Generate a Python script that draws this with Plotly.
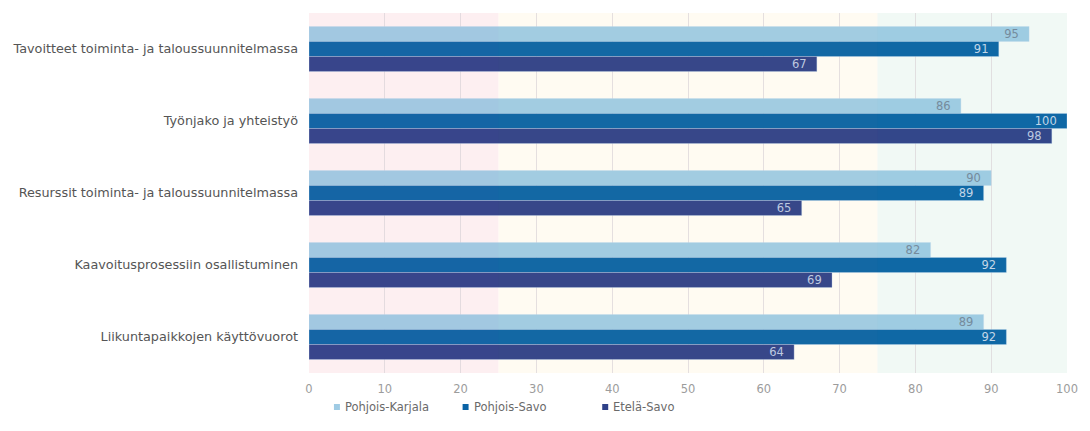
import plotly.graph_objects as go

categories = [
    "Tavoitteet toiminta- ja taloussuunnitelmassa",
    "Työnjako ja yhteistyö",
    "Resurssit toiminta- ja taloussuunnitelmassa",
    "Kaavoitusprosessiin osallistuminen",
    "Liikuntapaikkojen käyttövuorot",
]
series_names = ["Pohjois-Karjala", "Pohjois-Savo", "Etelä-Savo"]
pohjois_karjala = [95, 86, 90, 82, 89]
pohjois_savo = [91, 100, 89, 92, 92]
etela_savo = [67, 98, 65, 69, 64]
x_ticks = [0, 10, 20, 30, 40, 50, 60, 70, 80, 90, 100]

values = [pohjois_karjala, pohjois_savo, etela_savo]
colors = ["#9fcbe4", "#0a63a5", "#2f4189"]
label_colors = ["#74889c", "#c4d6ea", "#bcc8e2"]

FONT = "DejaVu Sans, Verdana, sans-serif"

fig = go.Figure()
for name, vals, col, lcol in zip(series_names, values, colors, label_colors):
    fig.add_trace(go.Bar(
        y=categories, x=vals, orientation="h", name=name,
        marker=dict(color=col, line=dict(color="rgba(190,215,240,0.55)", width=0.6)),
        text=vals, texttemplate="%{x}\u00a0\u00a0", textposition="inside",
        insidetextanchor="end", textangle=0, constraintext="none",
        textfont=dict(family=FONT, size=11.5, color=lcol),
        showlegend=False, hoverinfo="x+name",
    ))

# zone backgrounds: 0-25 / 25-75 / 75-100
bands = [(0, 25, "#fef4f5", "rgba(245,150,170,0.05)"),
         (25, 75, "#fffcf6", "rgba(255,220,160,0.04)"),
         (75, 100, "#f5faf8", "rgba(150,220,190,0.04)")]
for x0, x1, bg, tint in bands:
    fig.add_shape(type="rect", xref="x", yref="paper", x0=x0, x1=x1, y0=0, y1=1,
                  fillcolor=bg, line=dict(width=0), layer="below")
    fig.add_shape(type="rect", xref="x", yref="paper", x0=x0, x1=x1, y0=0, y1=1,
                  fillcolor=tint, line=dict(width=0), layer="above")

# legend below the plot: small colour squares followed by series names
legend_x = [336, 465, 605]
legend_y = 407
for name, col, lx in zip(series_names, colors, legend_x):
    fig.add_shape(type="rect", xref="paper", yref="paper",
                  x0=(lx - 3 - 308) / 760, x1=(lx + 3 - 308) / 760,
                  y0=(373 - legend_y - 3) / 360, y1=(373 - legend_y + 3) / 360,
                  fillcolor=col, line=dict(width=0), layer="above")
    fig.add_annotation(xref="paper", yref="paper",
                       x=(lx + 6 - 308) / 760, y=(373 - legend_y) / 360,
                       xanchor="left", yanchor="middle", showarrow=False,
                       text=name, font=dict(family=FONT, size=11.5, color="#6a6a6a"))

fig.update_layout(
    width=1090, height=431,
    margin=dict(l=308, r=22, t=13, b=58),
    paper_bgcolor="white", plot_bgcolor="white",
    barmode="group", bargap=0.375, bargroupgap=0,
    font=dict(family=FONT, size=12.8, color="#555"),
    xaxis=dict(range=[0, 100], tickvals=x_ticks, showgrid=True,
               gridcolor="#e4dfe2", gridwidth=1, zeroline=False,
               tickfont=dict(size=11.5, color="#9c9c9c"), ticks="",
               ticklabelstandoff=7, showline=False, fixedrange=True),
    yaxis=dict(autorange="reversed", showgrid=False, ticks="",
               ticklabelstandoff=10,
               tickfont=dict(size=12.8, color="#555"), fixedrange=True),
    showlegend=False,
)

fig.write_html("out.html")
